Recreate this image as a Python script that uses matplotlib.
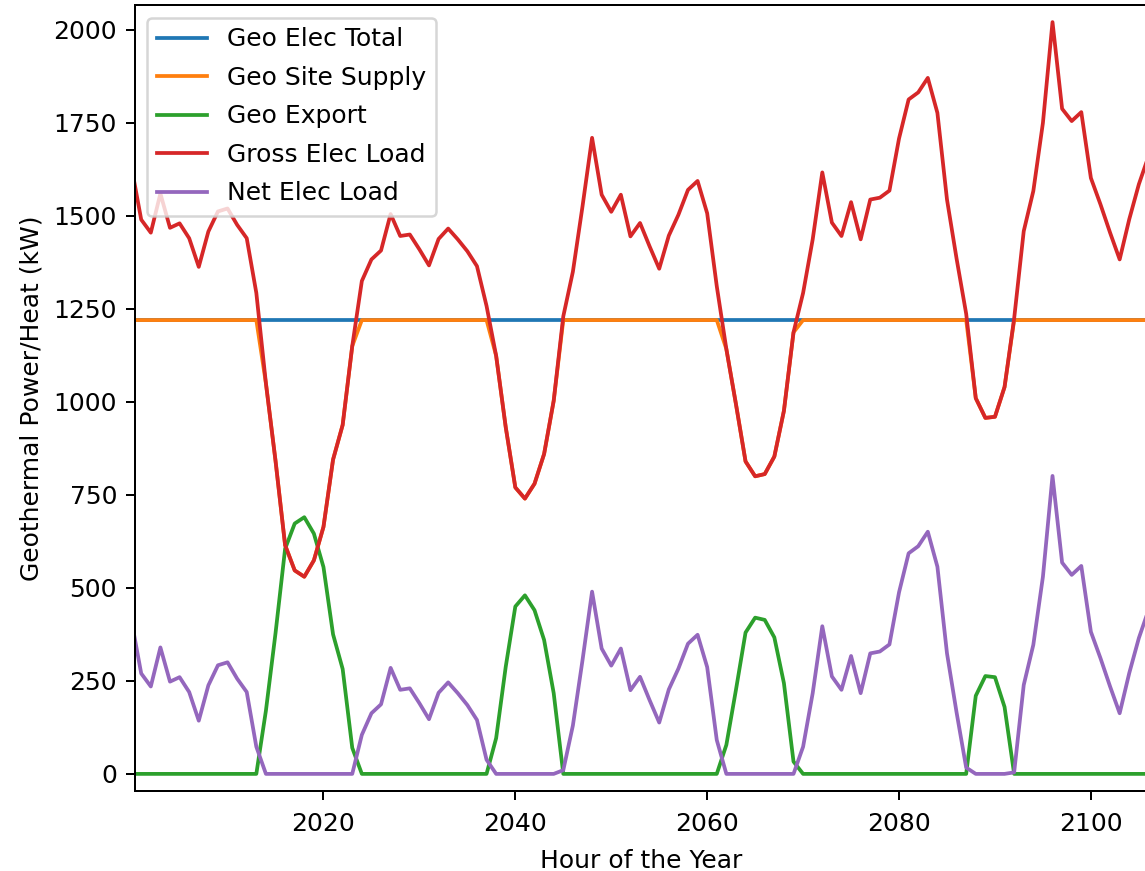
import matplotlib
matplotlib.use('Agg')
import matplotlib.pyplot as plt

# hours shown in the window
hours = list(range(2000, 2107))

geo_elec_total = [
    1220, 1220, 1220, 1220, 1220, 1220, 1220, 1220, 1220, 1220,
    1220, 1220, 1220, 1220, 1220, 1220, 1220, 1220, 1220, 1220,
    1220, 1220, 1220, 1220, 1220, 1220, 1220, 1220, 1220, 1220,
    1220, 1220, 1220, 1220, 1220, 1220, 1220, 1220, 1220, 1220,
    1220, 1220, 1220, 1220, 1220, 1220, 1220, 1220, 1220, 1220,
    1220, 1220, 1220, 1220, 1220, 1220, 1220, 1220, 1220, 1220,
    1220, 1220, 1220, 1220, 1220, 1220, 1220, 1220, 1220, 1220,
    1220, 1220, 1220, 1220, 1220, 1220, 1220, 1220, 1220, 1220,
    1220, 1220, 1220, 1220, 1220, 1220, 1220, 1220, 1220, 1220,
    1220, 1220, 1220, 1220, 1220, 1220, 1220, 1220, 1220, 1220,
    1220, 1220, 1220, 1220, 1220, 1220, 1220,
]

geo_site_supply = [
    1220, 1220, 1220, 1220, 1220, 1220, 1220, 1220, 1220, 1220,
    1220, 1220, 1220, 1220, 1050, 842, 615, 547, 530, 574,
    664, 845, 938, 1150, 1220, 1220, 1220, 1220, 1220, 1220,
    1220, 1220, 1220, 1220, 1220, 1220, 1220, 1220, 1124, 932,
    770, 740, 780, 860, 1003, 1220, 1220, 1220, 1220, 1220,
    1220, 1220, 1220, 1220, 1220, 1220, 1220, 1220, 1220, 1220,
    1220, 1220, 1142, 994, 840, 800, 806, 853, 976, 1187,
    1220, 1220, 1220, 1220, 1220, 1220, 1220, 1220, 1220, 1220,
    1220, 1220, 1220, 1220, 1220, 1220, 1220, 1220, 1010, 957,
    960, 1040, 1220, 1220, 1220, 1220, 1220, 1220, 1220, 1220,
    1220, 1220, 1220, 1220, 1220, 1220, 1220,
]

geo_export = [
    0, 0, 0, 0, 0, 0, 0, 0, 0, 0,
    0, 0, 0, 0, 170, 378, 605, 673, 690, 646,
    556, 375, 282, 70, 0, 0, 0, 0, 0, 0,
    0, 0, 0, 0, 0, 0, 0, 0, 96, 288,
    450, 480, 440, 360, 217, 0, 0, 0, 0, 0,
    0, 0, 0, 0, 0, 0, 0, 0, 0, 0,
    0, 0, 78, 226, 380, 420, 414, 367, 244, 33,
    0, 0, 0, 0, 0, 0, 0, 0, 0, 0,
    0, 0, 0, 0, 0, 0, 0, 0, 210, 263,
    260, 180, 0, 0, 0, 0, 0, 0, 0, 0,
    0, 0, 0, 0, 0, 0, 0,
]

gross_elec_load = [
    1630, 1490, 1455, 1560, 1468, 1480, 1440, 1363, 1458, 1512,
    1520, 1476, 1440, 1293, 1050, 842, 615, 547, 530, 574,
    664, 845, 938, 1150, 1325, 1383, 1407, 1505, 1446, 1450,
    1410, 1367, 1438, 1466, 1437, 1405, 1365, 1258, 1124, 932,
    770, 740, 780, 860, 1003, 1230, 1350, 1525, 1710, 1557,
    1511, 1557, 1445, 1481, 1418, 1358, 1447, 1503, 1570, 1594,
    1507, 1311, 1142, 994, 840, 800, 806, 853, 976, 1187,
    1293, 1437, 1617, 1482, 1446, 1537, 1437, 1544, 1549, 1568,
    1708, 1813, 1832, 1871, 1777, 1544, 1385, 1237, 1010, 957,
    960, 1040, 1224, 1459, 1567, 1750, 2021, 1788, 1755, 1779,
    1602, 1531, 1455, 1383, 1491, 1585, 1660,
]

net_elec_load = [
    410, 270, 235, 340, 248, 260, 220, 143, 238, 292,
    300, 256, 220, 73, 0, 0, 0, 0, 0, 0,
    0, 0, 0, 0, 105, 163, 187, 285, 226, 230,
    190, 147, 218, 246, 217, 185, 145, 38, 0, 0,
    0, 0, 0, 0, 0, 10, 130, 305, 490, 337,
    291, 337, 225, 261, 198, 138, 227, 283, 350, 374,
    287, 91, 0, 0, 0, 0, 0, 0, 0, 0,
    73, 217, 397, 262, 226, 317, 217, 324, 329, 348,
    488, 593, 612, 651, 557, 324, 165, 17, 0, 0,
    0, 0, 4, 239, 347, 530, 801, 568, 535, 559,
    382, 311, 235, 163, 271, 365, 440,
]

labels = ['Geo Elec Total', 'Geo Site Supply', 'Geo Export', 'Gross Elec Load', 'Net Elec Load']


def main():
    W, H, dpi = 1145, 871, 180
    fig = plt.figure(figsize=(W / dpi, H / dpi), dpi=dpi)
    # right spine sits just past the image edge, like the cropped original
    ax = fig.add_axes([134.5 / W, (H - 791) / H, (1147 - 134.5) / W, (791 - 5) / H])

    for series in [geo_elec_total, geo_site_supply, geo_export, gross_elec_load, net_elec_load]:
        ax.plot(hours, series)

    ax.legend(labels, loc='upper left', labelspacing=0.58)
    ax.set_xlim(2000.3, 2105.85)
    ax.set_ylim(-46, 2067)
    ax.set_xticks([2020, 2040, 2060, 2080, 2100])
    ax.set_yticks(range(0, 2001, 250))
    ax.tick_params(axis='x', pad=5)
    ax.set_xlabel('Hour of the Year', labelpad=5)
    ax.set_ylabel('Geothermal Power/Heat (kW)')

    fig.savefig('out.png', dpi=dpi)


main()
